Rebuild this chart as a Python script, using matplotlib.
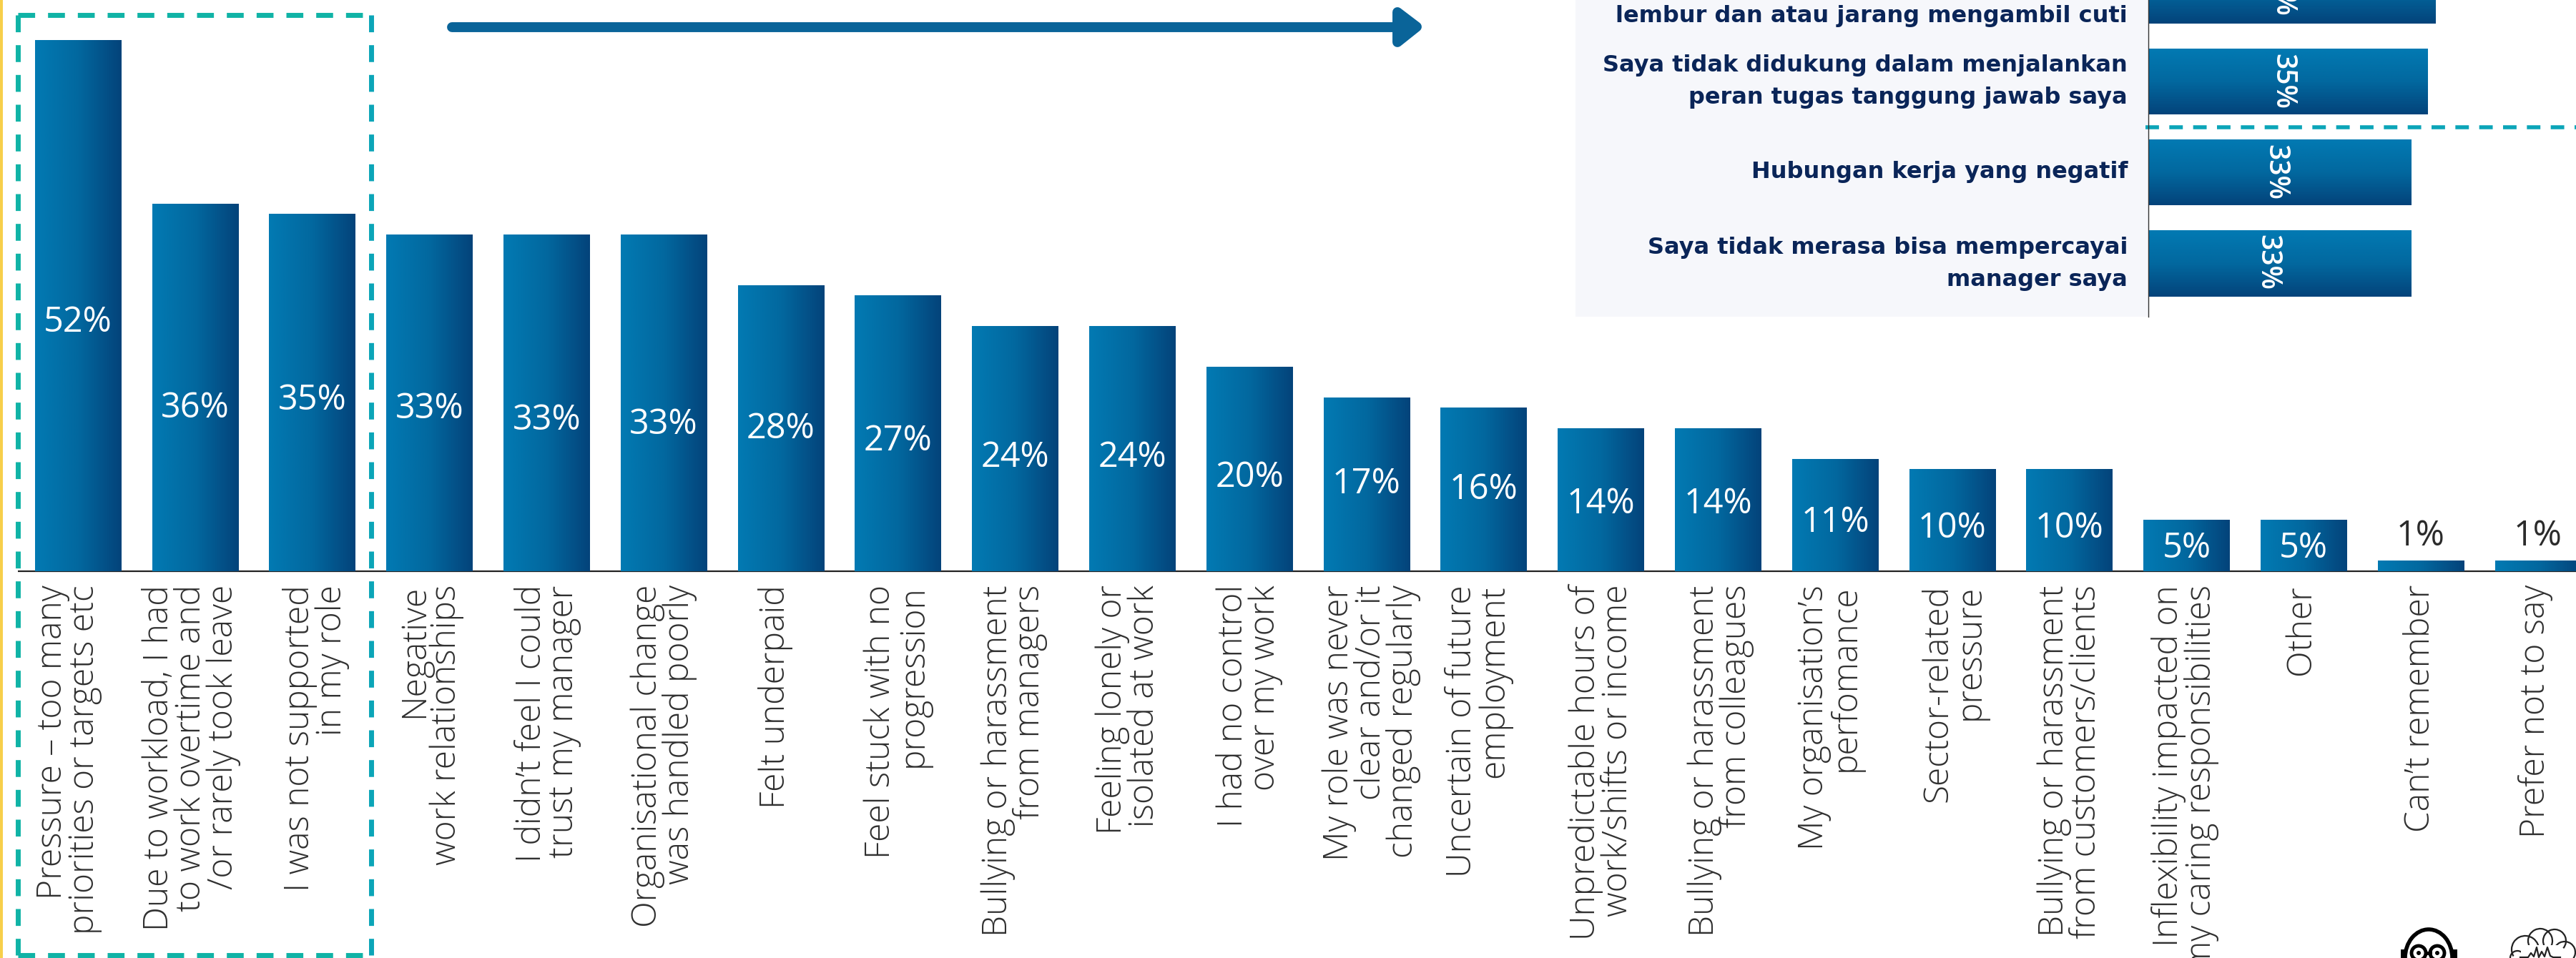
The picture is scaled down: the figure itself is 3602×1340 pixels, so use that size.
import numpy as np
import matplotlib
matplotlib.use('Agg')
import matplotlib.pyplot as plt
from matplotlib.patches import Rectangle, Polygon, Circle, Arc

W, H = 3602, 1340

categories = ['Pressure – too many\npriorities or targets etc',
              'Due to workload, I had\nto work overtime and\n/or rarely took leave',
              'I was not supported\nin my role',
              'Negative\nwork relationships',
              "I didn’t feel I could\ntrust my manager",
              'Organisational change\nwas handled poorly',
              'Felt underpaid',
              'Feel stuck with no\nprogression',
              'Bullying or harassment\nfrom managers',
              'Feeling lonely or\nisolated at work',
              'I had no control\nover my work',
              'My role was never\nclear and/or it\nchanged regularly',
              'Uncertain of future\nemployment',
              'Unpredictable hours of\nwork/shifts or income',
              'Bullying or harassment\nfrom colleagues',
              'My organisation’s\nperfomance',
              'Sector-related\npressure',
              'Bullying or harassment\nfrom customers/clients',
              'Inflexibility impacted on\nmy caring responsibilities',
              'Other',
              "Can’t remember",
              'Prefer not to say']
values = [52, 36, 35, 33, 33, 33, 28, 27, 24, 24, 20, 17, 16, 14, 14, 11, 10, 10, 5, 5, 1, 1]

panel_labels = ['lembur dan atau jarang mengambil cuti',
                'Saya tidak didukung dalam menjalankan\nperan tugas tanggung jawab saya',
                'Hubungan kerja yang negatif',
                'Saya tidak merasa bisa mempercayai\nmanager saya']
panel_values = [36, 35, 33, 33]

# where the percent labels sit, in pixels from the top
label_y_px = [451, 571, 560, 572, 588, 594, 600, 617, 640, 640, 668, 677, 685, 705, 705, 731, 739, 739, 767, 767, 750, 750]
# sideways nudges of the category labels, in pixels
label_dx = [-13, -5, 5, 2, 2, 0, -7, -1, -1, -5, 0, 7, -7, 2, 4, -7, 3, 2, -2, -3, 0, -3]

BASE_Y = 799
STEP = 163.8
FIRST_X = 109
PX_PER_PCT = 14.27
PANEL_PX_PER_PCT = 11.15
blues = matplotlib.colors.LinearSegmentedColormap.from_list('blues', ['#027ab3', '#02689f', '#04437a'])
grad_h = np.linspace(0, 1, 256).reshape(1, -1)
grad_v = np.linspace(0, 1, 256).reshape(-1, 1)

plt.rcParams['font.family'] = ['Open Sans', 'DejaVu Sans']
fig = plt.figure(figsize=(W / 100, H / 100), dpi=100, facecolor='white')

# full canvas layer in pixel coordinates for the decorations
bg = fig.add_axes([0, 0, 1, 1], zorder=0)
bg.set_xlim(0, W)
bg.set_ylim(H, 0)
bg.axis('off')
bg.add_patch(Rectangle((0, 0), 4, H, color='#f7cf4b', lw=0))
bg.add_patch(Rectangle((2203, 0), 801, 443, color='#f6f7fb', lw=0))

# main column chart
ax = fig.add_axes([0, 1 - BASE_Y / H, 1, BASE_Y / H], zorder=2)
ax.patch.set_alpha(0)
for s in ['top', 'left', 'right', 'bottom']:
    ax.spines[s].set_visible(False)
ax.set_xticks([])
ax.set_yticks([])

xpos = np.arange(len(values))
bars = ax.bar(xpos, values, width=0.735, color='none')
for b in bars:
    ax.imshow(grad_h, cmap=blues, aspect='auto', zorder=2,
              extent=[b.get_x(), b.get_x() + b.get_width(), 0, b.get_height()])
ax.set_xlim(-FIRST_X / STEP, (W - FIRST_X) / STEP)
ax.set_ylim(0, BASE_Y / PX_PER_PCT)

for i, v in enumerate(values):
    c = '#2b2b2b' if v == 1 else 'white'
    ax.text(i, (BASE_Y - label_y_px[i]) / PX_PER_PCT, '%d%%' % v, color=c, fontsize=35,
            fontweight='medium', ha='center', va='center', zorder=3)

# baseline and rotated category labels
bg.plot([25, W], [BASE_Y, BASE_Y], color='#222222', lw=1.6, zorder=3, solid_capstyle='butt')
for i, lab in enumerate(categories):
    bg.text(FIRST_X + STEP * i + label_dx[i], 818, lab, rotation=90, ha='center', va='top',
            multialignment='right', fontsize=34.5, fontweight='light', color='#303030',
            linespacing=0.9, clip_on=True)

# dashed highlight box, greener on the left, bluer on the right
dash = (0, (3.4, 2.6))
green_teal = '#10b3a6'
blue_teal = '#0ba5b8'
bg.plot([25, 25], [21, 1336], color=green_teal, lw=5, ls=dash, zorder=4)
bg.plot([25, 519], [21, 21], color=green_teal, lw=5, ls=dash, zorder=4)
bg.plot([25, 519], [1336, 1336], color=green_teal, lw=5, ls=dash, zorder=4)
bg.plot([519, 519], [21, 1336], color=blue_teal, lw=5, ls=dash, zorder=4)

# arrow along the top
arrow_c = '#0a6499'
bg.plot([632, 1955], [37.5, 37.5], color=arrow_c, lw=10, solid_capstyle='round', zorder=3)
bg.add_patch(Polygon([[1954, 17], [1954, 59], [1981, 37.5]], closed=True, fc=arrow_c, ec=arrow_c,
                     lw=10, joinstyle='round', zorder=3))

# small horizontal chart in the top corner
pax = fig.add_axes([3004 / W, 1 - 443 / H, (W - 3004) / W, 443 / H], zorder=2)
pax.patch.set_alpha(0)
for s in ['top', 'right', 'bottom']:
    pax.spines[s].set_visible(False)
pax.spines['left'].set_linewidth(1)
pax.spines['left'].set_color('#333333')
pax.set_xticks([])
pax.set_yticks([])
centers = [-13, 114, 241.5, 369]
value_x = [16.8, 16.8, 15.9, 14.9]
value_y = [-16, 114, 241, 367]
text_y = [22, 114, 240, 369]
for k, v in enumerate(panel_values):
    c = centers[k]
    pax.imshow(grad_v, cmap=blues, aspect='auto', extent=[0, v, c + 46, c - 46], zorder=2)
    pax.text(value_x[k], value_y[k], '%d%%' % v, color='white', fontsize=28, fontweight='semibold',
             rotation=-90, ha='center', va='center', zorder=3)
    bg.text(2975, text_y[k], panel_labels[k], ha='right', va='center', fontsize=23, fontweight='bold',
            family=['DejaVu Sans'], color='#0a2558', linespacing=1.62, zorder=3)
pax.set_xlim(0, (W - 3004) / PANEL_PX_PER_PCT)
pax.set_ylim(443, 0)

# dashed divider between the panel bars
bg.plot([3000, W], [178, 178], color=blue_teal, lw=4, ls=dash, zorder=5)

# head with glasses, bottom corner
bg.add_patch(Arc((3396, 1340), 66, 80, theta1=180, theta2=360, color='black', lw=4, zorder=3))
for cx in [3382, 3408]:
    bg.add_patch(Circle((cx, 1333), 10, fc='white', ec='black', lw=3.5, zorder=3))
    bg.add_patch(Circle((cx, 1333), 3, fc='black', lw=0, zorder=3))
bg.plot([3392, 3398], [1333, 1333], color='black', lw=3.5, zorder=3)
bg.plot([3360, 3360], [1331, 1340], color='black', lw=5, zorder=3)
bg.plot([3432, 3432], [1331, 1340], color='black', lw=5, zorder=3)

# cloud with a pulse inside
for cx, cy, d in [(3531, 1328, 38), (3552, 1316, 34), (3572, 1316, 32), (3586, 1332, 30), (3520, 1340, 20)]:
    bg.add_patch(Arc((cx, cy), d, d, theta1=150, theta2=40, color='#222222', lw=1.6, zorder=3))
bg.add_patch(Rectangle((3525, 1322), 55, 18, fc='white', lw=0, zorder=3.5))
bg.plot([3524, 3535, 3539, 3543, 3547, 3550, 3554, 3558, 3562, 3566, 3570, 3580],
        [1339, 1339, 1333, 1338, 1325, 1339, 1331, 1338, 1325, 1337, 1339, 1339],
        color='#222222', lw=1.6, zorder=4)

fig.savefig('out.png', dpi=100)
